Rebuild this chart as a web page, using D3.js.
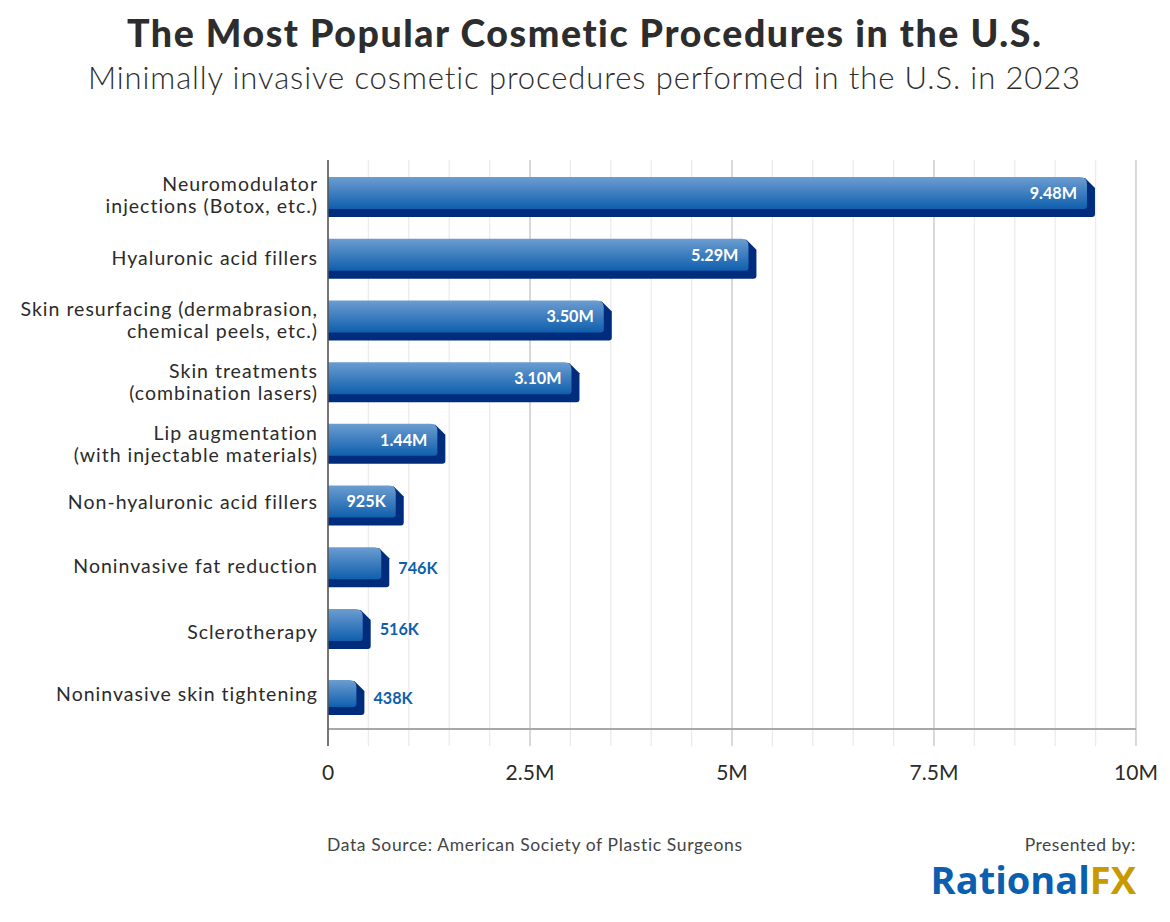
<!DOCTYPE html>
<html><head><meta charset="utf-8">
<script src="https://cdn.jsdelivr.net/npm/d3@7"></script>
<style>html,body{margin:0;padding:0;background:#fff}svg{display:block}text{font-family:Lato,sans-serif;font-variant-ligatures:none}</style>
</head><body><svg id="c" width="1170" height="922"></svg>
<script>
const categories=[["Neuromodulator","injections (Botox, etc.)"],["Hyaluronic acid fillers"],["Skin resurfacing (dermabrasion,","chemical peels, etc.)"],["Skin treatments","(combination lasers)"],["Lip augmentation","(with injectable materials)"],["Non-hyaluronic acid fillers"],["Noninvasive fat reduction"],["Sclerotherapy"],["Noninvasive skin tightening"]];
const values=[9480000,5290000,3500000,3100000,1440000,925000,746000,516000,438000];
const valueLabels=["9.48M","5.29M","3.50M","3.10M","1.44M","925K","746K","516K","438K"];
const majorTicks=[0,2500000,5000000,7500000,10000000];
const tickLabels=["0","2.5M","5M","7.5M","10M"];
const minorTicks=d3.range(0,10000001,500000);

const svg=d3.select("#c");
const x=d3.scaleLinear().domain([0,10000000]).range([328,1136]);
const ranks=d3.range(values.length);
const yTop=d3.scaleLinear().domain([0,7,8]).range([177,609,680]);
const yBottom=d3.scaleLinear().domain([0,7,8]).range([217,649,715]);
const yLabel=d3.scaleLinear().domain([0,4,5,6,7,8]).range([195.5,444.5,502.5,566.5,632.5,694.5]);
const depth=8;

const grad=svg.append("defs").append("linearGradient").attr("id","g").attr("x1",0).attr("x2",0).attr("y1",0).attr("y2",1);
grad.append("stop").attr("offset","0").attr("stop-color","#6c9dd1");
grad.append("stop").attr("offset","1").attr("stop-color","#0f5fad");

svg.append("g").selectAll("line").data(minorTicks).join("line")
 .attr("x1",d=>x(d)).attr("x2",d=>x(d)).attr("y1",160).attr("y2",746)
 .attr("stroke",d=>majorTicks.includes(d)?"#c4c4c4":"#ececec").attr("stroke-width",1.3);

const rows=svg.append("g").selectAll("g").data(ranks).join("g");
rows.append("path").attr("fill","#002c7d").attr("d",i=>{
  const p=d3.path(),r=x(values[i])+1,t=yTop(i),b=yBottom(i),l=x(0);
  p.moveTo(l,t+2);p.lineTo(r-depth-2,t+1);p.lineTo(r,t+11);p.lineTo(r,b-3);p.quadraticCurveTo(r,b,r-3,b);p.lineTo(l,b);p.closePath();return p.toString();});
rows.append("path").attr("fill","url(#g)").attr("d",i=>{
  const p=d3.path(),r=x(values[i])+1-depth,t=yTop(i),b=yBottom(i)-depth,l=x(0);
  p.moveTo(l,t);p.lineTo(r-7,t);p.quadraticCurveTo(r,t,r,t+7);p.lineTo(r,b-3);p.quadraticCurveTo(r,b,r-3,b);p.lineTo(l,b);p.closePath();return p.toString();});

rows.append("text").text(i=>valueLabels[i])
 .attr("font-size",16.2).attr("font-weight",700)
 .attr("dy","0.36em")
 .attr("text-anchor",i=>i<6?"end":"start")
 .attr("x",i=>i<6?x(values[i])+1-depth-10:x(values[i])+10)
 .attr("y",i=>i<6?(yTop(i)+yBottom(i)-depth)/2:(yTop(i)+yBottom(i))/2+0.5)
 .attr("fill",i=>i<6?"#fff":"#0f5fad");

const lab=svg.append("g").selectAll("text").data(ranks).join("text")
 .attr("text-anchor","end").attr("font-size",19.5).attr("letter-spacing",1).attr("fill","#2b2b2b");
lab.each(function(i){
  const t=d3.select(this),ls=categories[i];
  ls.forEach((s,k)=>t.append("tspan").attr("x",318).attr("y",yLabel(i)+(k-(ls.length-1)/2)*22).attr("dy","0.35em").text(s));
});

svg.append("line").attr("x1",x(0)).attr("x2",x(10000000)).attr("y1",729).attr("y2",729).attr("stroke","#a8a8a8").attr("stroke-width",2);
svg.append("line").attr("x1",x(0)).attr("x2",x(0)).attr("y1",160).attr("y2",746).attr("stroke","#555").attr("stroke-width",1.5);

svg.append("g").selectAll("text").data(majorTicks).join("text")
 .attr("x",d=>x(d)).attr("y",773).attr("dy","0.35em").attr("text-anchor","middle")
 .attr("font-size",21).attr("fill","#2b2b2b").text((d,i)=>tickLabels[i]);

svg.append("text").attr("x",584).attr("y",47).attr("text-anchor","middle").attr("font-size",37.5).attr("font-weight",900).attr("fill","#2d2d2d").attr("textLength",914).text("The Most Popular Cosmetic Procedures in the U.S.");
svg.append("text").attr("x",584).attr("y",89).attr("text-anchor","middle").attr("font-size",31).attr("font-weight",300).attr("fill","#2d2d2d").attr("textLength",992).text("Minimally invasive cosmetic procedures performed in the U.S. in 2023");
svg.append("text").attr("x",327).attr("y",851).attr("font-size",17.5).attr("fill","#444").attr("textLength",415).text("Data Source: American Society of Plastic Surgeons");
svg.append("text").attr("x",1136).attr("y",851).attr("text-anchor","end").attr("font-size",17.5).attr("letter-spacing",0.5).attr("fill","#444").text("Presented by:");
const logo=svg.append("text").attr("x",1136).attr("y",894).attr("text-anchor","end").attr("font-size",38).attr("font-weight",700).style("font-family","'Open Sans',sans-serif");
logo.append("tspan").attr("fill","#0b5fae").text("Rational");
logo.append("tspan").attr("fill","#c99a00").text("FX");
</script></body></html>
